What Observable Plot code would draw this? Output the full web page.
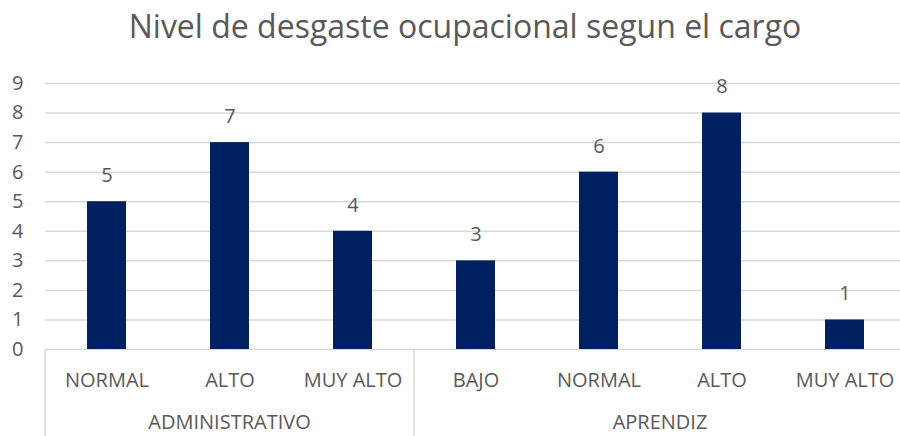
<!DOCTYPE html>
<html>
<head>
<meta charset="utf-8">
<script src="https://cdn.jsdelivr.net/npm/d3@7"></script>
<script src="https://cdn.jsdelivr.net/npm/@observablehq/plot@0.6"></script>
<style>
  html, body { margin: 0; padding: 0; background: #fff; }
  svg { display: block; }
</style>
</head>
<body>
<div id="chart"></div>
<script>
const title = "Nivel de desgaste ocupacional segun el cargo";
const groups = ["ADMINISTRATIVO", "ADMINISTRATIVO", "ADMINISTRATIVO", "APRENDIZ", "APRENDIZ", "APRENDIZ", "APRENDIZ"];
const levels = ["NORMAL", "ALTO", "MUY ALTO", "BAJO", "NORMAL", "ALTO", "MUY ALTO"];
const values = [5, 7, 4, 3, 6, 8, 1];
const yTicks = [0, 1, 2, 3, 4, 5, 6, 7, 8, 9];

const data = levels.map((l, i) => ({key: groups[i] + "|" + l, group: groups[i], level: l, value: values[i]}));
const keys = data.map(d => d.key);
const groupNames = [...new Set(groups)];
const groupInfo = groupNames.map(g => {
  const ks = data.filter(d => d.group === g).map(d => d.key);
  return {group: g, first: ks[0], last: ks[ks.length - 1]};
});

const W = 900, H = 436;
const mL = 45, mT = 83, mB = 87;
const xRange = [45, 906];
const gray = "#595959";
const grid = "#d9d9d9";
const font = "'Open Sans', sans-serif";

const chart = Plot.plot({
  width: W,
  height: H,
  marginLeft: mL,
  marginRight: 0,
  marginTop: mT,
  marginBottom: mB,
  style: {fontFamily: font, color: gray, background: "#fff", overflow: "hidden"},
  x: {domain: keys, range: xRange, paddingInner: 0.68, paddingOuter: 0.34, axis: null},
  y: {domain: [0, 9], axis: null},
  marks: [
    Plot.ruleY(yTicks, {stroke: grid, strokeWidth: 1.5, strokeOpacity: 1}),
    Plot.barY(data, {x: "key", y: "value", fill: "#002060"}),
    Plot.text(data, {x: "key", y: "value", text: d => String(d.value), dy: -26,
      fill: gray, fontSize: 20}),
    Plot.text(yTicks, {y: d => d, frameAnchor: "left", dx: -22, textAnchor: "end",
      text: d => String(d), fill: gray, fontSize: 20}),
    Plot.text(data, {x: "key", y: 0, dy: 31, text: "level", fill: gray, fontSize: 20}),
    Plot.text([title], {frameAnchor: "top", dy: -68, dx: -8, fill: gray, fontSize: 32})
  ]
});

const svg = d3.select(chart);
const x = chart.scale("x");
const y = chart.scale("y");
const step = x.step !== undefined ? x.step : (xRange[1] - xRange[0]) / keys.length;
// group separators and labels (two-level category axis)
const edges = groupInfo.map(g => x.apply(g.first) + x.bandwidth / 2 - step / 2);
edges.push(x.apply(groupInfo[groupInfo.length - 1].last) + x.bandwidth / 2 + step / 2);
const sep = svg.append("g");
edges.forEach(e => {
  sep.append("line").attr("x1", e).attr("x2", e).attr("y1", y.apply(0)).attr("y2", H)
    .attr("stroke", grid).attr("stroke-width", 1.5);
});
groupInfo.forEach((g, i) => {
  const cx = (edges[i] + edges[i + 1]) / 2;
  svg.append("text").attr("x", cx).attr("y", y.apply(0) + 80)
    .attr("text-anchor", "middle")
    .attr("fill", gray).attr("font-size", 20).attr("font-family", font)
    .text(g.group);
});

document.getElementById("chart").appendChild(chart);
</script>
</body>
</html>
